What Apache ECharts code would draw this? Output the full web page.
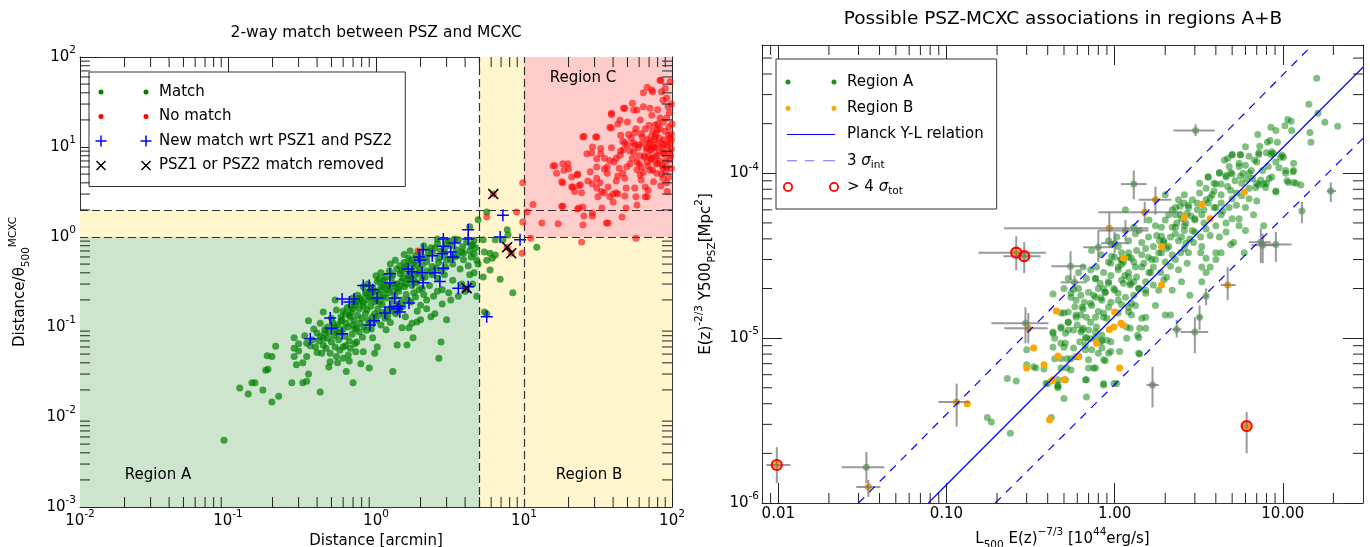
<!DOCTYPE html>
<html>
<head>
<meta charset="utf-8">
<title>PSZ - MCXC</title>
<script src="https://cdn.jsdelivr.net/npm/echarts@6/dist/echarts.min.js"></script>
<style>
  html, body { margin: 0; padding: 0; background: #fff; }
  #chart { width: 1370px; height: 547px; }
</style>
</head>
<body>
<div id="chart"></div>
<script>
// ---------- left panel : distance vs distance / theta500 ----------
const distCuts = [5, 10];     // arcmin
const ratioCuts = [1, 2];

const matchPts = [
  [0.094,0.0055],[0.12,0.021],[0.137,0.018],[0.145,0.024],[0.152,0.024],[0.172,0.020],[0.198,0.0147],[0.22,0.017],
  [0.18,0.033],[0.186,0.034],[0.184,0.048],[0.198,0.047],[0.21,0.061],[0.27,0.024],[0.28,0.058],[0.28,0.047],
  [0.29,0.038],[0.32,0.040],[0.32,0.024],[0.34,0.025],[0.35,0.030],[0.42,0.019],[0.35,0.117],[0.28,0.076],
  [0.30,0.054],[0.34,0.047],[0.34,0.066],[0.37,0.072],[0.40,0.086],[0.42,0.078],[0.39,0.060],[0.43,0.051],
  [0.49,0.051],[0.49,0.041],[0.48,0.036],[0.54,0.047],[0.44,0.147],[0.45,0.093],[0.53,0.093],[0.54,0.154],
  [0.53,0.20],[0.60,0.060],[0.63,0.032],[0.70,0.024],[0.65,0.049],[0.73,0.053],[0.79,0.039],[0.90,0.035],
  [0.74,0.068],[0.82,0.053],[0.98,0.051],[1.02,0.060],[1.30,0.032],[0.95,0.076],[1.17,0.093],[1.39,0.063],
  [1.50,0.098],[1.62,0.063],[1.78,0.076],[1.67,0.098],[1.89,0.114],[2.35,0.13],[2.75,0.068],[2.66,0.045],[3.0,0.12],
  [0.36,0.062],[0.41,0.07],[0.44,0.063],[0.47,0.075],[0.5,0.068],[0.52,0.08],[0.56,0.072],[0.58,0.088],
  [0.62,0.079],[0.66,0.07],[0.69,0.083],[0.72,0.095],[0.77,0.088],[0.81,0.077],[0.86,0.092],[0.47,0.1],
  [0.51,0.112],[0.55,0.105],[0.59,0.12],[0.63,0.11],[0.67,0.128],[0.71,0.118],[0.75,0.135],[0.8,0.125],
  [0.85,0.142],[0.9,0.11],[0.95,0.13],[1.0,0.118],[1.08,0.105],[1.15,0.125],[1.25,0.112],[0.6,0.15],
  [0.64,0.165],[0.68,0.145],[0.72,0.175],[0.77,0.16],[0.82,0.185],[0.87,0.155],[0.92,0.17],[0.97,0.19],
  [1.03,0.16],[1.1,0.178],[1.18,0.15],[1.27,0.165],[1.36,0.14],[1.45,0.16],[1.58,0.13],[0.7,0.21],
  [0.75,0.225],[0.8,0.2],[0.85,0.24],[0.9,0.215],[0.95,0.25],[1.0,0.2],[1.05,0.23],[1.1,0.26],
  [1.16,0.21],[1.22,0.24],[1.28,0.195],[1.34,0.22],[1.42,0.25],[1.5,0.2],[1.6,0.23],[1.72,0.19],
  [1.85,0.215],[2.0,0.175],[2.2,0.2],[0.82,0.28],[0.88,0.3],[0.95,0.27],[1.02,0.32],[1.08,0.28],
  [1.14,0.33],[1.2,0.29],[1.27,0.35],[1.33,0.3],[1.4,0.27],[1.48,0.32],[1.56,0.28],[1.65,0.34],
  [1.75,0.29],[1.88,0.31],[2.05,0.27],[2.3,0.29],[2.6,0.25],[1.0,0.37],[1.08,0.4],[1.15,0.36],
  [1.23,0.42],[1.3,0.38],[1.38,0.44],[1.46,0.39],[1.55,0.45],[1.64,0.37],[1.74,0.42],[1.85,0.38],
  [1.98,0.44],[2.15,0.36],[2.35,0.41],[2.6,0.35],[2.9,0.38],[3.3,0.33],[1.25,0.5],[1.35,0.55],
  [1.45,0.48],[1.55,0.52],[1.66,0.58],[1.78,0.5],[1.9,0.55],[2.05,0.49],[2.2,0.53],[2.4,0.47],
  [2.65,0.52],[2.95,0.46],[3.3,0.5],[3.7,0.44],[4.2,0.48],[1.55,0.64],[1.7,0.7],[1.85,0.62],
  [2.0,0.68],[2.2,0.6],[2.4,0.66],[2.65,0.58],[2.9,0.63],[3.2,0.57],[3.55,0.62],[3.9,0.56],
  [4.4,0.6],[4.8,0.55],[2.1,0.8],[2.35,0.76],[2.6,0.84],[2.9,0.74],[3.2,0.8],[3.5,0.72],
  [3.85,0.78],[4.3,0.7],[4.7,0.76],[2.6,0.95],[3.1,0.9],[3.6,0.93],[4.1,0.88],[4.6,0.92],
  [1.9,0.15],[2.2,0.16],[2.5,0.14],[2.8,0.18],[3.2,0.2],[3.6,0.22],[4.0,0.25],[4.5,0.3],
  [4.8,0.22],[3.8,0.3],[4.3,0.38],[2.0,0.12],[1.75,0.11],[2.45,0.22],[2.8,0.26],[3.1,0.24],[4.6,0.4],
  [0.3,0.065],[0.33,0.08],[0.38,0.095],[0.42,0.11],[0.45,0.085],[0.4,0.052],[0.46,0.058],[0.53,0.06],
  [0.57,0.055],[0.62,0.062],[0.67,0.058],[0.72,0.065],[0.6,0.045],[0.66,0.042],[0.55,0.04],[0.58,0.13],
  [0.5,0.125],[4.9,0.5],[4.6,0.65],[4.4,0.8],[3.9,0.66],
  [0.55,0.085],[0.6,0.095],[0.65,0.1],[0.7,0.105],[0.74,0.098],[0.78,0.11],[0.83,0.1],[0.88,0.12],
  [0.93,0.095],[0.98,0.14],[1.04,0.135],[1.12,0.145],[1.2,0.13],[1.3,0.15],[1.4,0.18],[1.52,0.17],
  [1.65,0.2],[1.8,0.24],[1.95,0.26],[2.1,0.23],[0.66,0.135],[0.7,0.16],[0.76,0.19],[0.82,0.17],
  [0.88,0.2],[0.94,0.22],[1.0,0.25],[1.06,0.19],[1.12,0.22],[1.18,0.26],[1.25,0.28],[1.32,0.25],
  [1.38,0.3],[1.45,0.28],[1.52,0.35],[1.6,0.3],[1.7,0.36],[1.8,0.33],[1.92,0.4],[2.05,0.35],
  [2.2,0.42],[2.4,0.38],[2.55,0.45],[2.75,0.42],[3.0,0.55],[3.4,0.6],[3.8,0.68],[4.5,0.82],
  [1.12,0.3],[1.05,0.34],[0.92,0.26],[0.86,0.23],[0.78,0.21],[0.73,0.19],[0.68,0.17],[0.62,0.14],
  [0.58,0.115],[0.53,0.1],[0.48,0.088],[0.44,0.075],[1.5,0.42],[1.62,0.48],[1.72,0.55],[1.85,0.48],
  [2.0,0.58],[2.25,0.7],[2.5,0.75],[2.75,0.7],[3.0,0.85],[3.4,0.95],
  [4.9,1.55],[4.3,1.3],[5.6,1.9],[6.4,0.93],[7.7,1.2],[7.8,1.05],[5.9,0.66],[6.4,0.63],
  [5.6,0.55],[6.1,0.58],[5.3,0.36],[5.9,0.43],[6.9,0.34],[8.4,0.24],[12.2,0.77],[5.3,0.93],
  [5.4,0.68],[7.2,0.93],[5.4,0.147],[5.6,0.14]
];

const noMatchPts = [
  [9.8,4.0],[11.5,2.3],[10.5,1.9],[13.2,1.43],[17,1.4],[25,1.36],[36,1.43],[18.3,2.2],[23,2.05],[25,2.15],
  [29,1.71],[46,1.67],[57,0.97],[24.5,0.88],[11.1,0.97],[8.9,1.9],[9.7,0.66],[16.2,6.2],[16.6,5.1],[18.6,5.5],
  [19.8,6.5],[20,5.7],[18.3,4.0],[21,3.6],[22,3.2],[23.5,3.7],[23,5.0],[26.6,8.4],[25.4,13.2],[29,10],
  [28.7,8.6],[31,12.9],[31,7.4],[31,6.0],[33,8.4],[35,7.5],[31,4.5],[31,3.5],[33.5,3.2],[36.5,5.1],
  [36.5,6.0],[37,3.6],[39,9.8],[40.5,6.8],[40,3.0],[42,3.1],[42,4.2],[43,4.75],[38,16.6],[39,23.7],
  [46.5,11.6],[44.5,8.1],[47,9.3],[49.5,6.0],[46.5,5.1],[48,4.5],[49,3.5],[56,3.5],[57,2.8],[66,2.8],
  [69,3.3],[71,5.55],[61,4.9],[62,6.0],[58,6.8],[54,7.5],[55,11.1],[56,14.3],[61,20],[58,25.8],
  [54,30.6],[47,27],[64,28],[71,27],[73,22.6],[68,46],[74,41],[64,40],[85,41],[84,55],
  [87,33],[83,21],[77,17.6],[80,15.5],[77,12.9],[71,11.1],[68,9.8],[77,9.8],[85,11.1],[87,8.6],
  [79,8.1],[73,7.5],[80,6.6],[87,5.85],[79,5.1],[87,4.5],[92,4.0],[63,12.9],[59,9.8],[65,7.7],
  [68,6.8],[71,9.3],[94,28],[95,16.7],[96,12.6],[25,12.9],[30.5,12.9],[39,23],[39,16.3],[44.5,20],
  [48,27],[55,25.8],[15.7,6.2],[18.3,6.5],[21,4.65],[18,4.1],[23,4.9],[21.4,3.6],[24,3.8],[24.5,3.1],
  [29,3.9],[32.5,4.0],[31.6,2.8],[34.7,3.1],[38,2.8],[43,3.0],[48,2.85],[58,2.27],[68,2.8],[37,1.43],
  [18,2.2],[23.5,2.1],[25.4,1.71],[29,1.85],[33.6,2.1],[40,2.45],[49,2.1],
  [70,8],[75,10],[82,9],[88,12],[90,7],[95,9],[65,8],[60,10.5],[78,6.5],[85,5],
  [92,6],[98,8],[72,13],[80,18],[90,15],[97,11],[68,12],[55,8.8],[50,10.5],[45,13.5],
  [52,6.5],[58,5.6],[62,4.3],[75,4.1],[84,3.7],[93,3.2],[66,3.6],[72,7.2],[88,10.5],[95,13.5],
  [99,9.5],[83,55],[97,53],[90,45],[73,43],
  [52,9],[56,10.5],[60,8],[63,11],[67,9.5],[70,11],[73,9.4],[76,12],[79,10.8],[82,12.5],
  [86,9.7],[89,8.3],[93,10.5],[96,7.2],[99,12],[53,12.5],[57,16],[62,14],[66,15.8],[70,17.5],
  [74,15],[78,14],[83,16],[87,19],[92,21],[96,24],[100,18],[60,6.5],[64,5.2],[69,6.1],
  [74,5.5],[77,7.8],[82,7],[86,6.2],[91,5.4],[95,4.6],[99,5.8],[42,7.5],[45,9],[48,11],
  [51,13.8],[44,5.8],[38,7.1],[35,5.7],[33,9.6],[28,5.3],[27,4.2],[43,18],[50,19],[99,14],
  [99,30],[92,35],[80,26],
  [1.92,0.70],[5.6,1.67],[9.8,1.47],[6.2,3.0],[7.7,0.77],[8.2,0.66],[4.1,0.27]
];

const newMatchPts = [
  [4.2,1.2],[4.2,0.95],[2.85,0.95],[2.85,0.79],[3.4,0.86],[2.08,0.72],[1.95,0.6],[1.98,0.55],
  [2.4,0.62],[2.8,0.65],[3.2,0.68],[3.3,0.6],[2.85,0.45],[2.5,0.4],[2.7,0.32],[1.65,0.44],
  [1.75,0.41],[2.05,0.4],[1.78,0.32],[2.08,0.31],[1.24,0.39],[1.24,0.31],[3.6,0.27],[0.82,0.29],
  [0.9,0.29],[0.95,0.26],[1.02,0.21],[1.34,0.21],[1.67,0.185],[1.43,0.17],[1.24,0.167],[1.15,0.143],
  [1.45,0.147],[0.59,0.205],[0.66,0.19],[0.71,0.205],[0.49,0.126],[0.5,0.097],[0.59,0.084],[0.36,0.074],
  [0.97,0.117],[0.91,0.105],[5.6,0.13],[4.2,0.28],[7.2,1.75],[6.9,1.0],[9.4,0.93],[1.39,0.16]
];

const removedPts = [[6.2,3.0],[7.7,0.77],[8.2,0.66],[4.1,0.27]];

// ---------- right panel : Y500 vs L500 ----------
const regionAPts = [
  [15.9,3.77e-4],[14.3,2.62e-4],[16.2,2.31e-4],[17.8,2.04e-4],[21.2,1.93e-4],[14.5,1.77e-4],[14.7,1.54e-4],
  [10.7,2.12e-4],[11.2,2.07e-4],[10.3,1.94e-4],[8.5,1.9e-4],[11.3,1.82e-4],[9.1,1.82e-4],[8.4,1.58e-4],
  [8.1,1.54e-4],[9.3,1.54e-4],[7.1,1.72e-4],[8.8,1.32e-4],[9.9,1.29e-4],[10.1,1.25e-4],[8.5,1.3e-4],
  [7.3,1.46e-4],[7.2,1.3e-4],[7.0,1.17e-4],[6.3,1.27e-4],[5.6,1.3e-4],[5.0,1.3e-4],[5.5,1.15e-4],
  [6.0,1.12e-4],[4.8,1.1e-4],[4.5,1.2e-4],[4.2,1.01e-4],[4.6,9.5e-5],[5.0,9.9e-5],[5.8,1e-4],
  [6.5,1.04e-4],[7.6,1.04e-4],[6.6,9.3e-5],[7.4,9.1e-5],[8.0,8.7e-5],[8.6,9.5e-5],[10.4,1.04e-4],
  [11.5,1.02e-4],[10.6,9.0e-5],[11.6,8.8e-5],[12.8,8.5e-5],[9.1,7.8e-5],[7.9,8.2e-5],[6.9,8.2e-5],
  [6.3,8.1e-5],[5.7,8.7e-5],[5.3,7.6e-5],[4.9,7.9e-5],[4.3,8.6e-5],[4.0,8.6e-5],[3.6,9.5e-5],
  [3.5,8.1e-5],[3.8,7.4e-5],[3.5,6.9e-5],[3.2,7.6e-5],[3.1,6.6e-5],[2.9,6.9e-5],[2.75,6.2e-5],
  [3.9,6.2e-5],[4.3,6.6e-5],[4.8,6.2e-5],[5.3,6.4e-5],[6.0,6.2e-5],[6.7,5.6e-5],[7.7,4.8e-5],
  [5.5,5.3e-5],[5.0,5.3e-5],[4.3,5.6e-5],[4.6,5.0e-5],[4.0,4.8e-5],[5.5,4.8e-5],[6.0,4.5e-5],
  [4.6,4.4e-5],[5.1,3.8e-5],[4.2,4.1e-5],[3.7,4.2e-5],[3.4,5.0e-5],[3.0,5.3e-5],[2.7,5.7e-5],
  [2.5,5.3e-5],[2.3,5.6e-5],[2.3,4.7e-5],[2.6,4.5e-5],[2.9,4.5e-5],[3.25,4.1e-5],[2.95,3.8e-5],
  [2.65,3.77e-5],[2.4,3.9e-5],[2.15,4.1e-5],[2.1,3.6e-5],[1.9,4.15e-5],[1.96,3.8e-5],[1.83,3.3e-5],
  [2.47,3.3e-5],[2.2,3.2e-5],[2.75,3.3e-5],[3.25,3.3e-5],[3.5,3.05e-5],[4.0,3.0e-5],[3.3,2.7e-5],
  [2.7,2.85e-5],[2.4,2.6e-5],[2.15,2.73e-5],[2.0,2.9e-5],[1.66,3.0e-5],[1.64,2.5e-5],[2.04,2.34e-5],
  [2.5,2.2e-5],[3.3,2.2e-5],[2.8,1.82e-5],[2.2,1.95e-5],[1.83,1.95e-5],[1.53,1.95e-5],[4.0,3.3e-5],
  [4.3,3.3e-5],[5.9,3.3e-5],[4.9,3.7e-5],[3.3,3.6e-5],[3.5,2.5e-5],[3.7,2.7e-5],
  [1.21,3.3e-5],[1.1,3.3e-5],[1.26,3.05e-5],[1.13,2.9e-5],[1.05,2.6e-5],[1.21,2.5e-5],[1.24,2.15e-5],
  [1.1,2.25e-5],[0.99,2.0e-5],[1.05,1.87e-5],[0.88,1.9e-5],[0.8,2.0e-5],[0.92,2.2e-5],[0.86,2.5e-5],
  [1.09,3.0e-5],[1.0,3.1e-5],[0.92,2.9e-5],[0.83,3.2e-5],[0.73,3.4e-5],[0.78,2.7e-5],[0.72,2.6e-5],
  [0.65,2.7e-5],[0.61,2.5e-5],[0.68,2.3e-5],[0.53,2.3e-5],[0.5,2.0e-5],[0.57,1.98e-5],[0.63,1.82e-5],
  [0.75,1.82e-5],[0.83,1.75e-5],[0.55,1.77e-5],[0.43,1.85e-5],[0.77,2.3e-5],[1.21,3.9e-5],[1.33,4.3e-5],
  [1.05,3.6e-5],[0.96,3.7e-5],[1.03,4.1e-5],[0.92,3.9e-5],[1.3,4.7e-5],[1.16,6.0e-5],
  [1.45,3.8e-5],[1.53,3.5e-5],[1.35,3.4e-5],[1.49,2.85e-5],[1.59,3.1e-5],[1.75,3.0e-5],[1.9,3.3e-5],
  [2.04,3.5e-5],[1.88,2.5e-5],[1.96,2.25e-5],[1.7,2.1e-5],[1.53,2.2e-5],[1.39,2.0e-5],[1.59,4.1e-5],
  [1.78,4.2e-5],[1.96,3.9e-5],[2.0,7.4e-5],[2.4,6.9e-5],[2.58,6.6e-5],[2.3,6.2e-5],[2.75,6.4e-5],
  [2.47,5.6e-5],[2.34,5.0e-5],[2.6,4.8e-5],[3.0,5.2e-5],[2.1,5.6e-5],[2.2,4.7e-5],[1.9,4.7e-5],
  [3.4,6.0e-5],[4.0,6.2e-5],[3.7,7.1e-5],[3.9,8.7e-5],[3.6,9.5e-5],[4.2,1e-4],[4.6,9.7e-5],
  [4.9,1.01e-4],[4.7,1.23e-4],[5.0,1.29e-4],[5.6,1.29e-4],[5.5,1.1e-4],[6.3,1.0e-4],[7.0,8.7e-5],
  [7.2,8.5e-5],[7.7,8.6e-5],[8.3,9.3e-5],[9.1,7.7e-5],[7.2,1.33e-4],[8.0,1.33e-4],[8.6,1.35e-4],
  [9.1,1.17e-4],[9.7,1.25e-4],[10.4,1.0e-4],[11.6,1.15e-4],[11.6,1.04e-4],[10.8,8.8e-5],[12.0,8.7e-5],
  [0.64,1.54e-5],[0.73,1.58e-5],[0.86,1.42e-5],[0.92,1.54e-5],[0.59,1.38e-5],[0.48,1.42e-5],[0.53,1.25e-5],
  [0.48,1.17e-5],[0.43,1.07e-5],[0.51,1.07e-5],[0.57,1.12e-5],[0.64,1.12e-5],[0.68,1.01e-5],[0.77,1.01e-5],
  [0.84,9.7e-6],[0.95,9.5e-6],[0.67,9.1e-6],[0.73,8.5e-6],[0.8,8.1e-6],[0.92,8.1e-6],[0.88,7.3e-6],
  [0.48,9.3e-6],[0.52,7.5e-6],[0.48,6.6e-6],[0.55,6.4e-6],[0.61,7.7e-6],[0.75,6.6e-6],[0.7,6.6e-6],
  [0.68,5.6e-6],[0.86,5.3e-6],[1.03,5.3e-6],[0.68,4.4e-6],[0.5,4.3e-6],[0.46,5.1e-6],[0.4,5.3e-6],
  [0.34,6.6e-6],[1.26,1.38e-5],[1.45,1.32e-5],[1.53,1.15e-5],[1.39,1.01e-5],[1.18,1.17e-5],[1.05,1.42e-5],
  [1.21,1.54e-5],[1.33,1.58e-5],[1.75,1.58e-5],[2.0,1.38e-5],[2.15,1.38e-5],[1.39,8.1e-6],[0.42,3.3e-6],
  [0.96,3.14e-5],[0.92,2.15e-5],[0.77,2.3e-5],[0.82,2.15e-5],[0.88,1.9e-5],[1.0,1.95e-5],[1.13,2.15e-5],
  [1.05,1.7e-5],[0.95,1.65e-5],[0.84,1.7e-5],[0.72,1.63e-5],[0.59,1.7e-5],[0.55,1.87e-5],[0.61,2.0e-5],
  [0.65,1.5e-5],[0.63,1.38e-5],[0.59,1.34e-5],[0.53,1.25e-5],[0.5,1.42e-5],[0.6,1.2e-5],[0.65,1.15e-5],
  [0.7,1.12e-5],[0.77,1.09e-5],[0.72,9.9e-6],[0.67,1e-5],[0.63,1.09e-5],[0.53,1.12e-5],[0.48,1.15e-5],
  [0.43,1.09e-5],[0.44,1e-5],[0.51,9.3e-6],[0.5,8.8e-6],[0.57,8.7e-6],[0.59,7.7e-6],[0.67,8.5e-6],
  [0.84,8.7e-6],[0.95,8.3e-6],[0.86,7.4e-6],[0.77,6.6e-6],[0.7,7.4e-6],[0.55,7.5e-6],[0.43,8.8e-6],
  [0.44,7.5e-6],[0.48,7.5e-6],[0.52,6.6e-6],[0.46,5.6e-6],[0.51,5.6e-6],[0.46,5.0e-6],[0.3,6.9e-6],
  [0.33,6.7e-6],[0.38,6.5e-6],[0.3,8.5e-6],[0.39,5.3e-6],[0.46,5.2e-6],[0.23,5.7e-6],[0.26,5.5e-6],
  [0.86,5.2e-6],[0.99,5.3e-6],[0.175,3.3e-6],[0.185,3.1e-6],[0.24,2.65e-6],[0.53,1.44e-5],[0.77,1.34e-5],
  [0.86,1.34e-5],[0.68,1.34e-5],[0.9,1.32e-5],[0.72,1.25e-5],[0.78,1.17e-5],[0.84,1.04e-5],[1.26,1.63e-5],
  [1.21,1.44e-5],[1.41,1.15e-5],[1.37,1.04e-5],[1.53,1.34e-5],[1.24,1.15e-5],[1.18,1.0e-5],[1.07,8.3e-6],
  [0.9,9.7e-6],[0.83,9.5e-6],[1.41,8.0e-6],[0.67,5.6e-6],[0.62,9.5e-6],[0.77,1.77e-5],[0.95,2.85e-5],
  [1.05,2.7e-5],[1.1,3.0e-5],[1.21,3.1e-5],[1.33,2.7e-5],[1.45,2.7e-5],[1.35,2.35e-5],[1.21,2.35e-5],
  [1.24,2.1e-5],[1.39,2.0e-5],[1.3,1.82e-5],[1.53,1.87e-5],[1.16,1.77e-5],[0.86,2.0e-5],
  [1.4,4.5e-5],[1.6,5.2e-5],[1.75,4.8e-5],[2.0,5.2e-5],[2.2,6.0e-5],[2.45,6.3e-5],[2.65,5.0e-5],
  [2.85,5.5e-5],[3.1,6.0e-5],[3.3,5.6e-5],[3.6,6.6e-5],[3.9,7.8e-5],[4.3,7.4e-5],[4.7,8.3e-5],
  [5.2,9.0e-5],[5.6,9.6e-5],[6.1,9.2e-5],[2.8,4.0e-5],[3.0,4.4e-5],[3.5,4.6e-5],[1.7,3.6e-5],
  [1.85,3.9e-5],[2.3,4.3e-5],[2.5,4.1e-5],[1.45,3.2e-5],[1.7,2.7e-5],[2.3,3.0e-5],[2.6,3.5e-5],
  [1.1,2.8e-5],[1.3,2.9e-5],[0.95,2.4e-5],[1.15,2.4e-5],[0.7,1.9e-5],[0.58,1.55e-5],[0.66,1.65e-5],
  [0.8,1.45e-5],[1.1,1.6e-5],[1.3,2.2e-5],[1.6,2.5e-5],[4.4,5.9e-5],[5.0,7.0e-5],[5.7,7.3e-5],
  [6.3,7.0e-5],[7.0,6.8e-5],[8.2,1.1e-4],[9.5,1.08e-4],[6.8,1.2e-4],[6.0,1.45e-4],[3.2,8.7e-5],[2.6,7.4e-5]
];

const regionBPts = [
  [0.45,1.46e-5],[0.33,8.7e-6],[0.46,7.8e-6],[0.38,6.9e-6],[0.3,6.6e-6],[0.61,7.8e-6],[0.43,5.6e-6],
  [0.42,5.5e-6],[0.5,5.6e-6],[0.41,3.2e-6],[0.133,4.0e-6],[0.78,9.3e-6],[0.93,1.13e-5],[0.99,1.17e-5],
  [1.09,1.23e-5],[1.12,1.2e-5],[1.0,1.44e-5],[1.07,6.6e-6],[1.13,3.05e-5],[3.3,6.5e-5],[2.6,5.4e-5],
  [3.7,5.3e-5],[5.9,7.7e-5],[1.9,3.6e-5],[1.9,2.1e-5]
];

// [L, Y, L low, L high, Y low, Y high]
const regionAErr = [
  [0.29,3.14e-5,0.218,0.363,2.48e-5,3.82e-5],[0.547,2.73e-5,0.42,0.67,2.25e-5,3.37e-5],
  [0.8,3.56e-5,0.65,0.98,2.9e-5,4.5e-5],[1.16,4.5e-5,0.8,1.59,3.9e-5,5.2e-5],
  [1.3,8.6e-5,1.09,1.55,6.95e-5,1.04e-4],[1.0,3.77e-5,0.83,1.21,3.27e-5,4.4e-5],
  [0.578,2.18e-5,0.477,0.68,1.98e-5,2.4e-5],[0.295,1.23e-5,0.185,0.404,9.3e-6,1.54e-5],
  [0.0334,1.65e-6,0.0238,0.0427,1.32e-6,2.04e-6],[1.68,5.2e-6,1.55,1.83,3.8e-6,6.7e-6],
  [3.0,1.09e-5,2.47,3.6,8.1e-6,1.34e-5],[2.34,1.13e-5,2.2,2.5,1.01e-5,1.29e-5],
  [3.2,1.34e-5,3.1,3.3,1.12e-5,1.58e-5],[3.03,1.82e-4,2.24,3.94,1.68e-4,1.98e-4],
  [19.3,7.8e-5,18.3,20.7,6.7e-5,8.8e-5],[13.0,5.9e-5,12.8,13.2,4.98e-5,6.7e-5],
  [7.4,3.82e-5,6.3,8.5,2.85e-5,4.64e-5],[7.6,3.66e-5,6.5,9.1,2.85e-5,4.3e-5],
  [9.1,3.7e-5,7.7,11.3,2.9e-5,4.4e-5],[3.5,1.8e-5,3.4,3.6,1.58e-5,2.0e-5]
];
const regionBErr = [
  [0.115,4.1e-6,0.0896,0.137,2.9e-6,5.3e-6],[0.0343,1.25e-6,0.0291,0.0405,1.09e-6,1.38e-6],
  [0.0098,1.7e-6,0.0085,0.0118,1.32e-6,2.18e-6],[0.307,1.15e-5,0.221,0.4,9.3e-6,1.42e-5],
  [0.26,3.3e-5,0.155,0.39,2.58e-5,4.15e-5],[0.93,4.64e-5,0.22,1.59,3.66e-5,5.8e-5],
  [1.51,5.8e-5,0.8,2.5,4.98e-5,6.7e-5],[1.75,6.9e-5,1.39,2.18,5.6e-5,8.3e-5],
  [4.7,2.1e-5,4.28,5.25,1.7e-5,2.7e-5],[6.1,2.93e-6,6.0,6.2,2.0e-6,3.56e-6]
];
const outlierPts = [[0.0098,1.7e-6],[0.26,3.3e-5],[0.29,3.14e-5],[6.1,2.93e-6]];

const planckLine = [[0.078,1e-6],[30,4.4e-4]];
const sigmaUpper = [[0.030,1e-6],[15,6e-4]];
const sigmaLower = [[0.195,1e-6],[30,1.63e-4]];

// ---------- drawing ----------
const FONT = 'DejaVu Sans';
const leftX = [0.01, 100], leftY = [0.001, 100];
const rightX = [0.008, 30], rightY = [1e-6, 6e-4];

const rich = {
  s: { fontSize: 10.5, fontFamily: FONT, color: '#000', verticalAlign: 'top', lineHeight: 24 },
  u: { fontSize: 10.5, fontFamily: FONT, color: '#000', verticalAlign: 'bottom', lineHeight: 22 },
  i: { fontSize: 15, fontFamily: FONT, color: '#000', fontStyle: 'italic', lineHeight: 20 },
  lu: { fontSize: 10.5, fontFamily: FONT, color: '#000', verticalAlign: 'bottom', lineHeight: 20 }
};
const powLabel = v => '10{s|' + Math.round(Math.log10(v)) + '}';

function logAxis(gridIndex, position, range, label, extra) {
  return Object.assign({
    type: 'log', logBase: 10, gridIndex, position, min: range[0], max: range[1],
    axisLine: { show: true, onZero: false, lineStyle: { color: '#333', width: 1 } },
    axisTick: { show: true, inside: true, length: 20, lineStyle: { color: '#222', width: 1 } },
    splitLine: { show: false },
    axisLabel: label ? Object.assign({ color: '#000', fontFamily: FONT, fontSize: 15, rich }, label) : { show: false },
    nameTextStyle: { color: '#000', fontFamily: FONT, fontSize: 15, rich }
  }, extra || {});
}

function minorValues(range) {
  const out = [];
  for (let d = Math.floor(Math.log10(range[0])); d < Math.ceil(Math.log10(range[1])); d++) {
    for (let k = 2; k <= 9; k++) {
      const v = k * Math.pow(10, d);
      if (v > range[0] * 1.0001 && v < range[1] * 0.9999) out.push(v);
    }
  }
  return out;
}

function minorTicks(axisIndex, xr, yr) {
  const data = minorValues(xr).map(v => [v, yr[0], 0]).concat(minorValues(yr).map(v => [xr[0], v, 1]));
  return {
    type: 'custom', xAxisIndex: axisIndex, yAxisIndex: axisIndex, silent: true, z: 6,
    encode: { x: 0, y: 1 }, data,
    renderItem(params, api) {
      const cs = params.coordSys;
      const p = api.coord([api.value(0), api.value(1)]);
      const st = { stroke: '#222', lineWidth: 1 };
      const L = 10;
      if (api.value(2) === 0) {
        return { type: 'group', children: [
          { type: 'line', shape: { x1: p[0], y1: cs.y + cs.height, x2: p[0], y2: cs.y + cs.height - L }, style: st },
          { type: 'line', shape: { x1: p[0], y1: cs.y, x2: p[0], y2: cs.y + L }, style: st }
        ] };
      }
      return { type: 'group', children: [
        { type: 'line', shape: { x1: cs.x, y1: p[1], x2: cs.x + L, y2: p[1] }, style: st },
        { type: 'line', shape: { x1: cs.x + cs.width, y1: p[1], x2: cs.x + cs.width - L, y2: p[1] }, style: st }
      ] };
    }
  };
}

// legend icons (box anchors first so every icon fills the same item box)
const box = (w, h) => 'M0,0M' + w + ',' + h;
const dot = r => cx => `M${cx - r},6a${r},${r} 0 1,0 ${2 * r},0a${r},${r} 0 1,0 ${-2 * r},0Z`;
const plus = cx => `M${cx - 0.75},0.5h1.5v4.75h4.75v1.5h-4.75v4.75h-1.5v-4.75h-4.75v-1.5h4.75Z`;
const cross = cx => `M${cx - 4},1L${cx + 5},10L${cx + 4},11L${cx - 5},2ZM${cx - 5},10L${cx + 4},1L${cx + 5},2L${cx - 4},11Z`;
const ring = cx => `M${cx - 5},6a5,5 0 1,0 10,0a5,5 0 1,0 -10,0ZM${cx - 3.2},6a3.2,3.2 0 1,1 6.4,0a3.2,3.2 0 1,1 -6.4,0Z`;
const pairIcon = (w, f, c1, c2) => 'path://' + box(w, 12) + f(c1) + f(c2);

const PLUS_SYMBOL = 'path://M5.25,0h1.5v5.25h5.25v1.5h-5.25v5.25h-1.5v-5.25h-5.25v-1.5h5.25Z';
const CROSS_SYMBOL = 'path://M1,0L10,9L9,10L0,1ZM0,9L9,0L10,1L1,10Z';

const legendNames = {
  sigmaInt: '3 {i|σ}{lu|int}',
  sigmaTot: '> 4 {i|σ}{lu|tot}'
};
const legendBase = {
  orient: 'vertical', selectedMode: false, borderColor: '#333', borderWidth: 1, backgroundColor: '#fff',
  itemHeight: 12, textStyle: { fontFamily: FONT, fontSize: 15, color: '#000', lineHeight: 20, rich },
  formatter: n => legendNames[n] || n
};
const solid = c => ({ color: c, opacity: 1, borderWidth: 0 });

const markRegion = (x0, y0, x1, y1, color) => [
  { xAxis: x0, yAxis: y0, itemStyle: { color, opacity: 1, borderWidth: 0 } },
  { xAxis: x1, yAxis: y1 }
];
const GREEN_BG = 'rgb(204,229,204)', YELLOW_BG = 'rgb(255,246,205)', RED_BG = 'rgb(255,204,204)';

const chart = echarts.init(document.getElementById('chart'), null, { renderer: 'canvas' });
chart.setOption({
  animation: false,
  backgroundColor: '#fff',
  title: [
    { text: '2-way match between PSZ and MCXC', left: 376, top: 25, textAlign: 'center', padding: 0,
      textStyle: { fontFamily: FONT, fontSize: 15.5, fontWeight: 'normal', color: '#000' } },
    { text: 'Possible PSZ-MCXC associations in regions A+B', left: 1063, top: 10, textAlign: 'center', padding: 0,
      textStyle: { fontFamily: FONT, fontSize: 18.5, fontWeight: 'normal', color: '#000' } }
  ],
  grid: [
    { left: 80, top: 57, width: 592, height: 450, containLabel: false, outerBoundsMode: 'none' },
    { left: 762, top: 45, width: 601, height: 458, containLabel: false, outerBoundsMode: 'none' }
  ],
  xAxis: [
    logAxis(0, 'bottom', leftX, { formatter: powLabel, margin: 2 },
      { name: 'Distance [arcmin]', nameLocation: 'middle', nameGap: 24 }),
    logAxis(0, 'top', leftX, null),
    logAxis(1, 'bottom', rightX, { formatter: v => v.toFixed(2), margin: 4, showMinLabel: false, showMaxLabel: false },
      { name: 'L{u|500} E(z){s|−7/3} [10{s|44}erg/s]', nameLocation: 'middle', nameGap: 22 }),
    logAxis(1, 'top', rightX, null)
  ],
  yAxis: [
    logAxis(0, 'left', leftY, { formatter: powLabel, margin: 4 },
      { name: 'Distance/θ{u|500}{s|MCXC}', nameLocation: 'middle', nameGap: 48 }),
    logAxis(0, 'right', leftY, null),
    logAxis(1, 'left', rightY, { formatter: powLabel, margin: 3, showMaxLabel: false },
      { name: 'E(z){s|-2/3} Y500{u|PSZ}[Mpc{s|2}]', nameLocation: 'middle', nameGap: 44 }),
    logAxis(1, 'right', rightY, null)
  ],
  legend: [
    Object.assign({}, legendBase, {
      left: 89, top: 72, itemWidth: 59, itemGap: 4.5, padding: [10, 13, 11, 6],
      data: [
        { name: 'Match', icon: pairIcon(59, dot(2.5), 6, 51), itemStyle: solid('#008000') },
        { name: 'No match', icon: pairIcon(59, dot(2.5), 6, 51), itemStyle: solid('#ff0000') },
        { name: 'New match wrt PSZ1 and PSZ2', icon: pairIcon(59, plus, 6, 51), itemStyle: solid('#0000ff') },
        { name: 'PSZ1 or PSZ2 match removed', icon: pairIcon(59, cross, 6, 51), itemStyle: solid('#000') }
      ]
    }),
    Object.assign({}, legendBase, {
      left: 776, top: 59, itemWidth: 60, itemGap: 6.25, padding: [13, 13, 12, 6],
      data: [
        { name: 'Region A', icon: pairIcon(60, dot(2.5), 6, 52), itemStyle: solid('#228b22') },
        { name: 'Region B', icon: pairIcon(60, dot(2.5), 6, 52), itemStyle: solid('#ffa500') },
        { name: 'Planck Y-L relation', icon: 'path://' + box(60, 12) + 'M5,5.4h48v1.2h-48Z', itemStyle: solid('#0000ff') },
        { name: 'sigmaInt', icon: 'path://' + box(60, 12) + 'M5,5.4h10v1.2h-10ZM23,5.4h9v1.2h-9ZM41,5.4h12v1.2h-12Z', itemStyle: solid('#6f6fff') },
        { name: 'sigmaTot', icon: pairIcon(60, ring, 6, 52), itemStyle: solid('#ff0000') }
      ]
    })
  ],
  graphic: [
    { type: 'text', x: 158, y: 475, z: 20, style: { text: 'Region A', font: '15px "DejaVu Sans"', fill: '#000', align: 'center', verticalAlign: 'middle' } },
    { type: 'text', x: 589, y: 475, z: 20, style: { text: 'Region B', font: '15px "DejaVu Sans"', fill: '#000', align: 'center', verticalAlign: 'middle' } },
    { type: 'text', x: 583, y: 78, z: 20, style: { text: 'Region C', font: '15px "DejaVu Sans"', fill: '#000', align: 'center', verticalAlign: 'middle' } }
  ],
  series: [
    {
      name: 'regions', type: 'scatter', xAxisIndex: 0, yAxisIndex: 0, data: [], silent: true, z: 1,
      markArea: {
        silent: true, z: 1,
        data: [
          markRegion(leftX[0], leftY[0], distCuts[0], ratioCuts[0], GREEN_BG),
          markRegion(distCuts[0], leftY[0], distCuts[1], leftY[1], YELLOW_BG),
          markRegion(leftX[0], ratioCuts[0], distCuts[0], ratioCuts[1], YELLOW_BG),
          markRegion(distCuts[1], leftY[0], leftX[1], ratioCuts[0], YELLOW_BG),
          markRegion(distCuts[1], ratioCuts[0], leftX[1], leftY[1], RED_BG)
        ]
      },
      markLine: {
        silent: true, symbol: ['none', 'none'], z: 1, label: { show: false },
        lineStyle: { color: '#333', width: 1.2, type: [8, 4] },
        data: distCuts.map(v => ({ xAxis: v })).concat(ratioCuts.map(v => ({ yAxis: v })))
      }
    },
    { name: 'Match', type: 'scatter', xAxisIndex: 0, yAxisIndex: 0, data: matchPts, symbolSize: 7,
      itemStyle: { color: '#008000', opacity: 0.7 } },
    { name: 'No match', type: 'scatter', xAxisIndex: 0, yAxisIndex: 0, data: noMatchPts, symbolSize: 7,
      itemStyle: { color: '#ff0000', opacity: 0.6 } },
    { name: 'New match wrt PSZ1 and PSZ2', type: 'scatter', xAxisIndex: 0, yAxisIndex: 0, data: newMatchPts,
      symbol: PLUS_SYMBOL, symbolSize: 12, z: 3, itemStyle: { color: '#0000ff', opacity: 1 } },
    { name: 'PSZ1 or PSZ2 match removed', type: 'scatter', xAxisIndex: 0, yAxisIndex: 0, data: removedPts,
      symbol: CROSS_SYMBOL, symbolSize: 11, z: 4, itemStyle: { color: '#000', opacity: 1 } },
    minorTicks(0, leftX, leftY),

    { name: 'Region A', type: 'scatter', xAxisIndex: 2, yAxisIndex: 2, symbolSize: 7,
      data: regionAPts.concat(regionAErr.map(e => [e[0], e[1]])),
      itemStyle: { color: '#008000', opacity: 0.5 } },
    { name: 'Region B', type: 'scatter', xAxisIndex: 2, yAxisIndex: 2, symbolSize: 7,
      data: regionBPts.concat(regionBErr.map(e => [e[0], e[1]])),
      itemStyle: { color: '#ffa500', opacity: 1 } },
    {
      name: 'errors', type: 'custom', xAxisIndex: 2, yAxisIndex: 2, silent: true, z: 3,
      encode: { x: 0, y: 1 }, data: regionAErr.concat(regionBErr),
      renderItem(params, api) {
        const y = api.value(1), x = api.value(0);
        const a = api.coord([api.value(2), y]), b = api.coord([api.value(3), y]);
        const c = api.coord([x, api.value(4)]), d = api.coord([x, api.value(5)]);
        const st = { stroke: 'rgba(120,120,120,0.75)', lineWidth: 2 };
        return { type: 'group', children: [
          { type: 'line', shape: { x1: a[0], y1: a[1], x2: b[0], y2: b[1] }, style: st },
          { type: 'line', shape: { x1: c[0], y1: c[1], x2: d[0], y2: d[1] }, style: st }
        ] };
      }
    },
    { name: 'Planck Y-L relation', type: 'line', xAxisIndex: 2, yAxisIndex: 2, data: planckLine, z: 4,
      symbol: 'none', lineStyle: { color: '#0000ff', width: 1.2 } },
    { name: 'sigmaInt', type: 'line', xAxisIndex: 2, yAxisIndex: 2, data: sigmaUpper, z: 4,
      symbol: 'none', lineStyle: { color: '#0000ff', width: 1.2, type: [8, 7] } },
    { name: 'sigmaInt', type: 'line', xAxisIndex: 2, yAxisIndex: 2, data: sigmaLower, z: 4,
      symbol: 'none', lineStyle: { color: '#0000ff', width: 1.2, type: [8, 7] } },
    { name: 'sigmaTot', type: 'scatter', xAxisIndex: 2, yAxisIndex: 2, data: outlierPts, z: 5,
      symbol: 'circle', symbolSize: 10,
      itemStyle: { color: 'rgba(0,0,0,0)', borderColor: '#ff0000', borderWidth: 2.2, opacity: 1 } },
    minorTicks(2, rightX, rightY)
  ]
});
</script>
</body>
</html>
